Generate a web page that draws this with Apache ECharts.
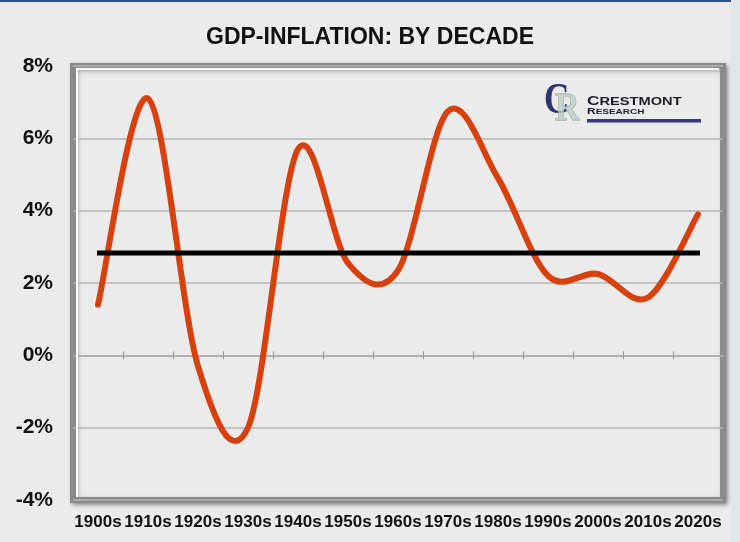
<!DOCTYPE html>
<html>
<head>
<meta charset="utf-8">
<title>GDP-Inflation by decade</title>
<script src="https://cdn.jsdelivr.net/npm/echarts@6/dist/echarts.min.js"></script>
<style>
  html, body { margin: 0; padding: 0; background: #ebebeb; }
  #chart { width: 740px; height: 542px; }
</style>
</head>
<body>
<div id="chart"></div>
<script>
// Decades on the category axis
const decades = ['1900s', '1910s', '1920s', '1930s', '1940s', '1950s', '1960s',
                 '1970s', '1980s', '1990s', '2000s', '2010s', '2020s'];
// GDP-inflation per decade, in percent
const gdpInflation = [1.4, 7.1, -0.3, -2.0, 5.7, 2.55, 2.35, 6.75, 4.9, 2.2, 2.25, 1.6, 3.9];
// Long-run average, drawn as a flat reference line
const longRunAverage = 2.83;
// Value axis ticks
const yTicks = { min: -4, max: 8, step: 2 };

const FONT = '"Liberation Sans", Arial, sans-serif';
const grid = { left: 73, top: 66, right: 17, bottom: 42 };
const W = 740, H = 542;
const gx0 = grid.left, gx1 = W - grid.right, gy0 = grid.top, gy1 = H - grid.bottom;

// Tension of the spreadsheet-style cardinal spline
const TENSION = 1 / 6;

const chart = echarts.init(document.getElementById('chart'), null, { renderer: 'canvas' });

// Draws the smoothed decade curve and the average line through the axis scales
function renderCurves(params, api) {
  if (params.dataIndex !== 0) return null;
  const n = gdpInflation.length;
  const pts = gdpInflation.map((v, i) => api.coord([i, v]));
  let d = 'M' + pts[0][0] + ',' + pts[0][1];
  for (let i = 0; i < n - 1; i++) {
    const p0 = pts[Math.max(i - 1, 0)];
    const p1 = pts[i];
    const p2 = pts[i + 1];
    const p3 = pts[Math.min(i + 2, n - 1)];
    const c1x = p1[0] + (p2[0] - p0[0]) * TENSION;
    const c1y = p1[1] + (p2[1] - p0[1]) * TENSION;
    const c2x = p2[0] - (p3[0] - p1[0]) * TENSION;
    const c2y = p2[1] - (p3[1] - p1[1]) * TENSION;
    d += ' C' + c1x + ',' + c1y + ',' + c2x + ',' + c2y + ',' + p2[0] + ',' + p2[1];
  }
  const a0 = api.coord([0, longRunAverage]);
  const a1 = api.coord([n - 1, longRunAverage]);
  return {
    type: 'group',
    children: [
      {
        type: 'path',
        shape: { pathData: d },
        style: { stroke: '#d8400e', lineWidth: 6, fill: 'none', lineCap: 'round', lineJoin: 'round' }
      },
      {
        type: 'line',
        shape: { x1: a0[0] - 1, y1: a0[1], x2: a1[0] + 2, y2: a1[1] },
        style: { stroke: '#000000', lineWidth: 5, lineCap: 'butt' }
      }
    ]
  };
}

const hiddenAxisText = { show: false };

chart.setOption({
  backgroundColor: '#ebebeb',
  animation: false,
  title: {
    text: 'GDP-INFLATION: BY DECADE',
    left: 'center',
    top: 21,
    textStyle: { fontFamily: FONT, fontWeight: 'bold', fontSize: 23, color: '#111' }
  },
  grid: {
    left: grid.left, top: grid.top, right: grid.right, bottom: grid.bottom,
    show: true,
    backgroundColor: '#ebebeb',
    borderColor: '#8a8a8a',
    borderWidth: 6,
    shadowColor: 'rgba(0,0,0,0.35)',
    shadowBlur: 4,
    shadowOffsetX: 2,
    shadowOffsetY: 2,
    outerBoundsMode: 'none'
  },
  xAxis: [
    {
      // labels along the bottom edge of the plot
      type: 'category',
      data: decades,
      position: 'bottom',
      axisLine: { show: false, onZero: false },
      axisTick: { show: false },
      axisLabel: {
        interval: 0, margin: 14,
        fontFamily: FONT, fontWeight: 'bold', fontSize: 17, color: '#111'
      },
      splitLine: { show: false }
    },
    {
      // zero line with downward ticks
      type: 'category',
      data: decades,
      position: 'bottom',
      axisLine: { show: true, onZero: true, onZeroAxisIndex: 0,
                  lineStyle: { color: '#aaaaaa', width: 1.5 } },
      axisTick: { show: true, length: 4, interval: 0, lineStyle: { color: '#9a9a9a', width: 1 } },
      axisLabel: hiddenAxisText,
      splitLine: { show: false }
    },
    {
      // upward half of the crossing ticks
      type: 'category',
      data: decades,
      position: 'bottom',
      axisLine: { show: false, onZero: true, onZeroAxisIndex: 0 },
      axisTick: { show: true, inside: true, length: 4, interval: 0, lineStyle: { color: '#9a9a9a', width: 1 } },
      axisLabel: hiddenAxisText,
      splitLine: { show: false }
    }
  ],
  yAxis: {
    type: 'value',
    min: yTicks.min,
    max: yTicks.max,
    interval: yTicks.step,
    axisLine: { show: false },
    axisTick: { show: false },
    axisLabel: {
      formatter: '{value}%', margin: 20,
      fontFamily: FONT, fontWeight: 'bold', fontSize: 21, color: '#111'
    },
    splitLine: { show: true, lineStyle: { color: '#b4b4b4', width: 1.5 } }
  },
  series: [
    {
      name: 'GDP-Inflation',
      type: 'custom',
      xAxisIndex: 0,
      data: gdpInflation.map((v, i) => [i, v]),
      encode: { x: 0, y: 1 },
      renderItem: renderCurves,
      clip: false,
      z: 3
    }
  ],
  graphic: [
    // thin blue rule along the top edge and pale strip at the right edge
    { type: 'rect', shape: { x: 0, y: 0, width: W, height: 2 }, style: { fill: '#2d4f8e' }, z: 10 },
    { type: 'rect', shape: { x: 731, y: 0, width: 9, height: H }, style: { fill: '#dde8e8' }, z: 10 },
    // inner highlight of the bevelled plot frame
    {
      type: 'polyline',
      shape: { points: [[gx0 + 4, gy1 - 3], [gx0 + 4, gy0 + 3], [gx1 - 4, gy0 + 3]] },
      style: { stroke: '#ffffff', lineWidth: 2, fill: null },
      z: 1, silent: true
    },
    // logo
    {
      type: 'group',
      z: 20,
      children: [
        { type: 'text', x: 544, y: 80, scaleX: 0.8,
          style: { text: 'C', font: 'bold 44px "Liberation Serif", serif', fill: '#2f3472' } },
        { type: 'text', x: 555, y: 90, scaleX: 0.85,
          style: { text: 'R', font: 'bold 40px "Liberation Serif", serif',
                   fill: 'rgba(190,207,202,0.8)', stroke: '#86a09a', lineWidth: 0.8 } },
        { type: 'text', x: 587, y: 108, scaleX: 1.33,
          style: {
            text: '{a|C}{b|RESTMONT}',
            textVerticalAlign: 'bottom',
            rich: {
              a: { font: 'bold 13px "Liberation Sans", Arial, sans-serif', fill: '#1c1c2a' },
              b: { font: 'bold 11px "Liberation Sans", Arial, sans-serif', fill: '#1c1c2a' }
            }
          } },
        { type: 'text', x: 587, y: 116, scaleX: 1.33,
          style: {
            text: '{a|R}{b|ESEARCH}',
            textVerticalAlign: 'bottom',
            rich: {
              a: { font: 'bold 9px "Liberation Sans", Arial, sans-serif', fill: '#1c1c2a' },
              b: { font: 'bold 7.5px "Liberation Sans", Arial, sans-serif', fill: '#1c1c2a' }
            }
          } },
        { type: 'rect', shape: { x: 587, y: 119, width: 114, height: 3.5 }, style: { fill: '#363a78' } }
      ]
    }
  ]
});
</script>
</body>
</html>
